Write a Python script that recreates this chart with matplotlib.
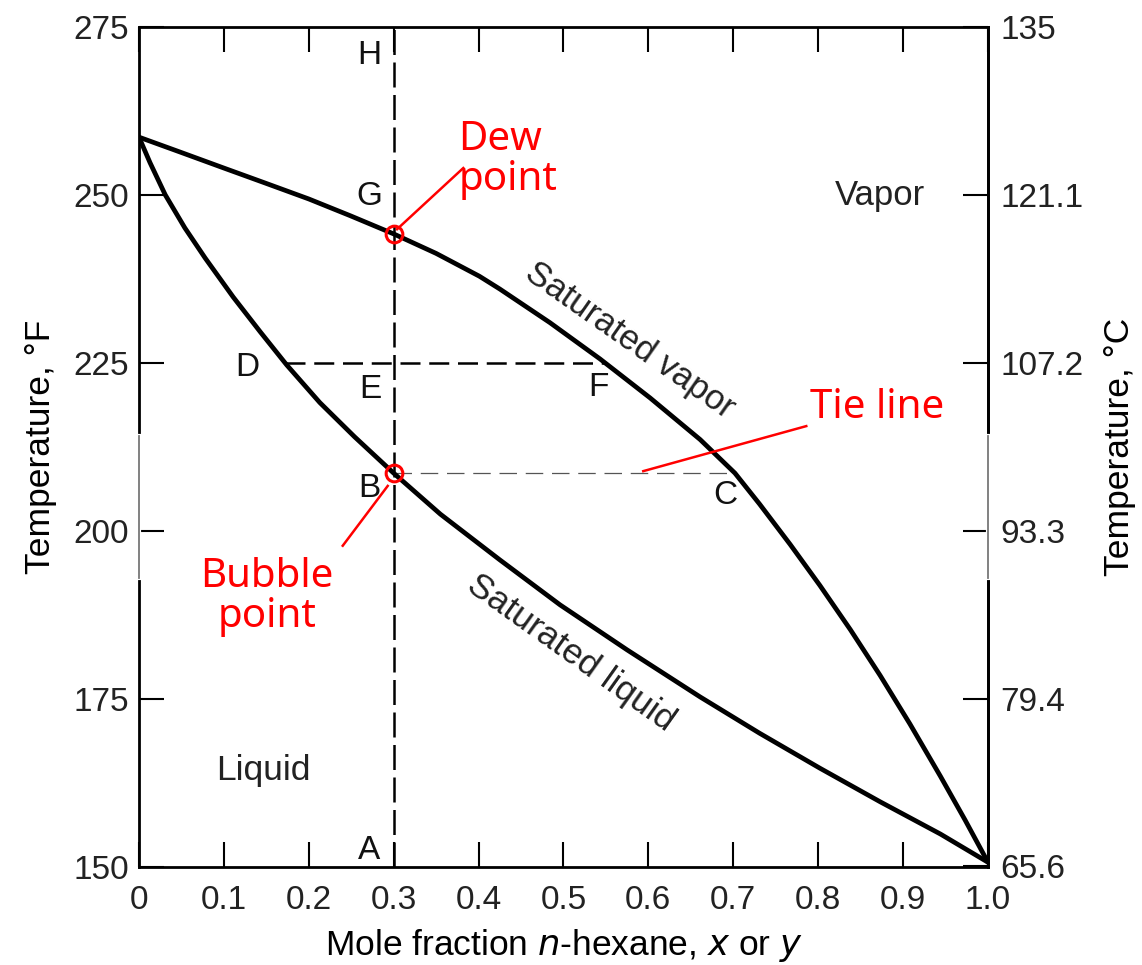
import matplotlib.pyplot as plt

plt.rcParams['font.family'] = ['Liberation Sans', 'DejaVu Sans']

# Dew-point (saturated vapor) curve, mole fraction vs temperature in degF
x_vapor = [0.0, 0.048, 0.100, 0.148, 0.200, 0.249, 0.300, 0.350, 0.401, 0.425,
           0.484, 0.543, 0.602, 0.661, 0.702, 0.731, 0.767, 0.802, 0.838, 0.873,
           0.908, 0.944, 0.973, 1.0]
t_vapor = [258.6, 256.4, 254.0, 251.8, 249.4, 246.9, 244.2, 241.3, 237.9, 236.0,
           231.0, 225.6, 219.8, 213.6, 208.6, 204.0, 198.0, 191.9, 185.3, 178.5,
           171.3, 163.5, 157.0, 150.7]

# Bubble-point (saturated liquid) curve
x_liquid = [0.0, 0.013, 0.031, 0.054, 0.078, 0.111, 0.143, 0.174, 0.213, 0.254,
            0.300, 0.355, 0.425, 0.496, 0.575, 0.661, 0.731, 0.802, 0.873, 0.944, 1.0]
t_liquid = [258.6, 254.8, 250.0, 245.1, 240.6, 234.8, 229.6, 224.7, 219.1, 214.0,
            208.6, 202.5, 195.7, 189.0, 182.3, 175.3, 169.9, 164.7, 159.7, 154.9, 150.7]

x_ticks = [0.0, 0.1, 0.2, 0.3, 0.4, 0.5, 0.6, 0.7, 0.8, 0.9, 1.0]
x_tick_labels = ['0', '0.1', '0.2', '0.3', '0.4', '0.5', '0.6', '0.7', '0.8', '0.9', '1.0']
f_ticks = [150, 175, 200, 225, 250, 275]
c_ticks = [65.6, 79.4, 93.3, 107.2, 121.1, 135]
c_tick_labels = ['65.6', '79.4', '93.3', '107.2', '121.1', '135']

# feed composition and the key temperatures on the isopleth
x_feed = 0.3
t_dew = 244.2
t_bubble = 208.6
t_mid = 225.0
x_d, x_f = 0.172, 0.55
x_c = 0.702


def f2c(t):
    return (t - 32) * 5 / 9


def c2f(c):
    return c * 9 / 5 + 32


fig = plt.figure(figsize=(11.42, 9.65), dpi=100)
ax = fig.add_axes([0.1217, 0.1016, 0.7434, 0.8705])

ax.plot(x_vapor, t_vapor, color='black', lw=3.4, solid_joinstyle='round',
        solid_capstyle='round', zorder=3)
ax.plot(x_liquid, t_liquid, color='black', lw=3.4, solid_joinstyle='round',
        solid_capstyle='round', zorder=3)

# isopleth A-H and the horizontal D-E-F line
ax.plot([x_feed, x_feed], [150, 275], color='black', lw=1.8, dashes=(10, 3), zorder=2)
ax.plot([x_d, x_f], [t_mid, t_mid], color='black', lw=1.8, dashes=(8, 3.5), zorder=2)
# tie line B-C
ax.plot([x_feed, x_c], [t_bubble, t_bubble], color='#555555', lw=0.9, dashes=(14, 7), zorder=2)

ax.set_xlim(0, 1)
ax.set_ylim(150, 275)
ax.set_xticks(x_ticks, labels=x_tick_labels)
ax.set_yticks(f_ticks)
ax.tick_params(direction='in', length=18, width=1.5, labelsize=24, top=True,
               labelcolor='#222222')
ax.tick_params(axis='x', pad=13)
ax.tick_params(axis='y', pad=7)
for s in ax.spines.values():
    s.set_linewidth(2.0)

sec = ax.secondary_yaxis('right', functions=(f2c, c2f))
sec.set_yticks(c_ticks, labels=c_tick_labels)
sec.tick_params(direction='in', length=18, width=1.5, labelsize=24, pad=9,
                labelcolor='#222222')
sec.spines['right'].set_linewidth(2.0)
sec.set_ylabel('Temperature, \u00b0C', fontsize=25.5, rotation=90, labelpad=14)

ax.set_xlabel('Mole fraction $\\mathit{n}$-hexane, $\\mathit{x}$ or $\\mathit{y}$',
              fontsize=25.5, labelpad=8)
ax.set_ylabel('Temperature, \u00b0F', fontsize=25.5, labelpad=12)

# faded stretch of both side spines around the tie line
for xs in (0, 1):
    ax.plot([xs, xs], [193.0, 214.1], color='white', lw=3.0, clip_on=False, zorder=5)
    ax.plot([xs, xs], [193.0, 214.1], color='#777777', lw=1.3, clip_on=False, zorder=6)

letters = {'H': (0.271, 270.8), 'G': (0.271, 249.7), 'D': (0.128, 224.3),
           'E': (0.272, 221.0), 'F': (0.541, 221.3), 'B': (0.271, 206.3),
           'C': (0.691, 205.2), 'A': (0.271, 152.4)}
for name, (lx, ly) in letters.items():
    ax.text(lx, ly, name, fontsize=24, ha='center', va='center', color='#111111')

ax.text(0.873, 249.9, 'Vapor', fontsize=25, ha='center', va='center', color='#222222')
ax.text(0.146, 164.4, 'Liquid', fontsize=25.5, ha='center', va='center', color='#222222')
ax.text(0.578, 228.3, 'Saturated vapor', fontsize=25, ha='center', va='center',
        rotation=-35, rotation_mode='anchor', color='#222222')
ax.text(0.509, 181.8, 'Saturated liquid', fontsize=25.5, ha='center', va='center',
        rotation=-35.4, rotation_mode='anchor', color='#222222')

# red callouts
red = '#ff0000'
ax.plot([x_feed], [t_dew], 'o', ms=12, mfc='none', mec=red, mew=2.2, zorder=7)
ax.plot([x_feed], [t_bubble], 'o', ms=12, mfc='none', mec=red, mew=2.2, zorder=7)
ax.plot([0.304, 0.382], [244.9, 254.0], color=red, lw=1.8, zorder=7)
ax.plot([0.293, 0.240], [206.7, 197.8], color=red, lw=1.8, zorder=7)
ax.plot([0.594, 0.786], [208.9, 215.6], color=red, lw=1.8, zorder=7)

ax.text(0.376, 255.2, 'Dew\npoint', fontsize=29, color=red, ha='left', va='center',
        family='Noto Sans', linespacing=1.0)
ax.text(0.151, 190.2, 'Bubble\npoint', fontsize=29, color=red, ha='center', va='center',
        family='Noto Sans', linespacing=1.0)
ax.text(0.790, 218.3, 'Tie line', fontsize=29, color=red, ha='left', va='center',
        family='Noto Sans')

fig.savefig('out.png', dpi=100)
